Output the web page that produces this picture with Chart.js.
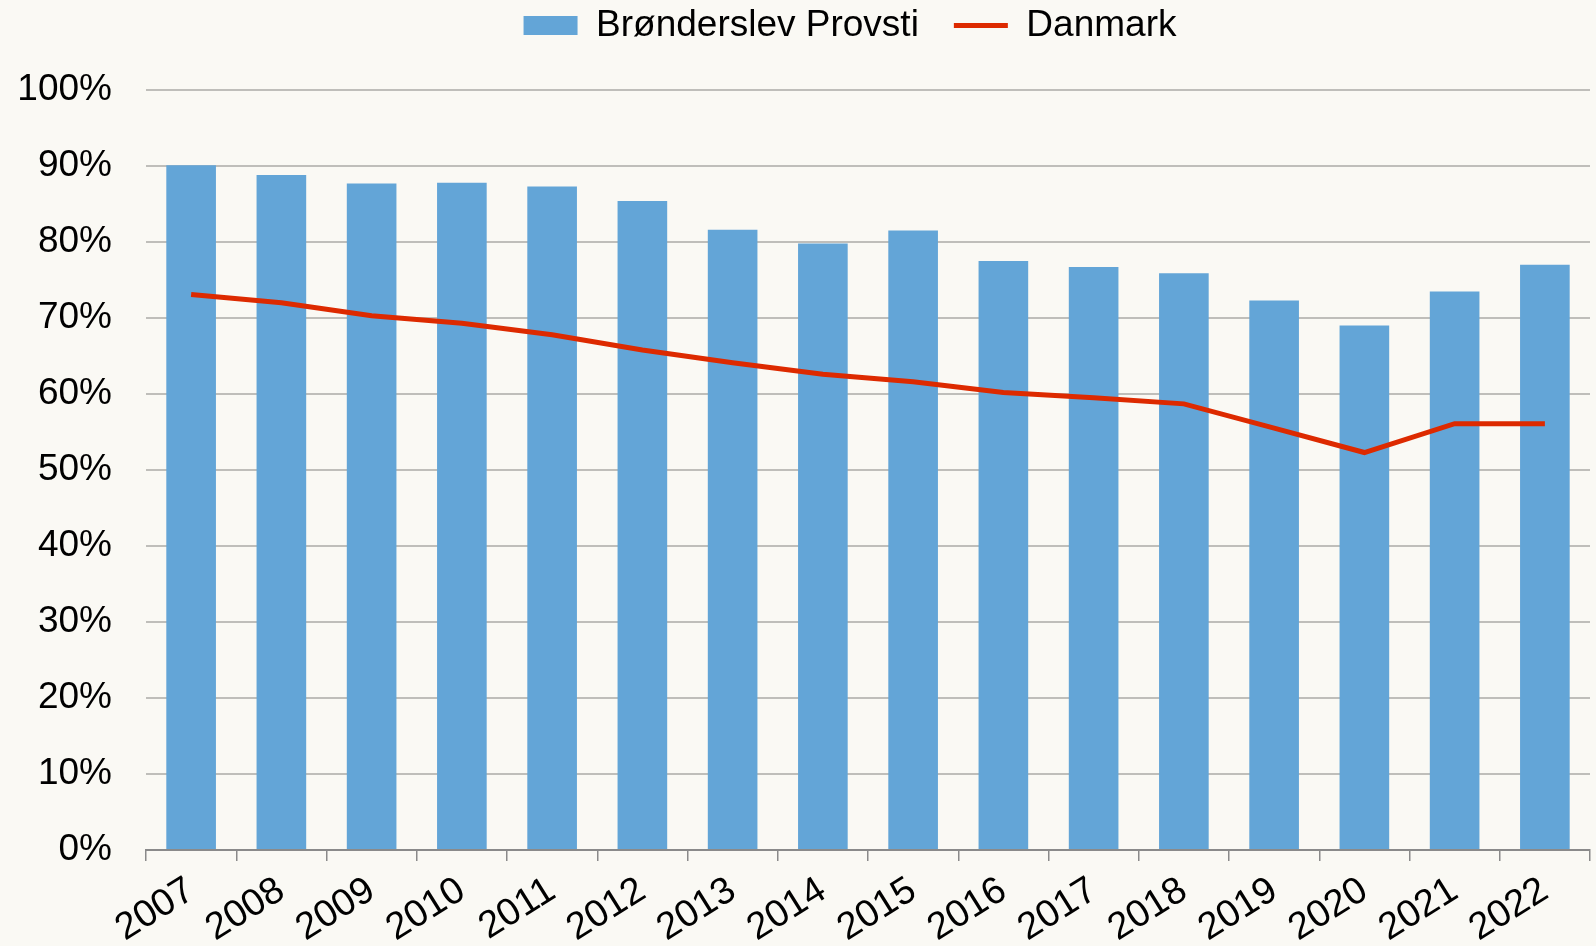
<!DOCTYPE html>
<html lang="da">
<head>
<meta charset="utf-8">
<title>Brønderslev Provsti</title>
<script src="https://cdn.jsdelivr.net/npm/chart.js@4.4.1/dist/chart.umd.min.js"></script>
<style>
  html, body { margin: 0; padding: 0; background: #FAF9F4; }
  #wrap { width: 1596px; height: 946px; position: relative; }
</style>
</head>
<body>
<div id="wrap"><canvas id="chart"></canvas></div>
<script>
// --- DATA ---
const years = ['2007', '2008', '2009', '2010', '2011', '2012', '2013', '2014',
               '2015', '2016', '2017', '2018', '2019', '2020', '2021', '2022'];
const provstiShare = [90.1, 88.8, 87.7, 87.8, 87.3, 85.4, 81.6, 79.8,
                      81.5, 77.5, 76.7, 75.9, 72.3, 69.0, 73.5, 77.0];
const danmarkShare = [73.1, 72.0, 70.3, 69.3, 67.8, 65.8, 64.1, 62.6,
                      61.6, 60.2, 59.5, 58.7, 55.5, 52.3, 56.1, 56.1];
const yTicks = [0, 10, 20, 30, 40, 50, 60, 70, 80, 90, 100];

const BAR_BLUE = '#63A5D7';
const LINE_RED = '#DD2A00';
const FONT = 'Liberation Sans, Arial, sans-serif';
const FONT_SIZE = 37;

// legend sits higher and a bit right of the plot centre
const legendShift = {
  id: 'legendShift',
  afterLayout(chart) {
    const lg = chart.legend;
    lg.left += 45;
    lg.right += 45;
    lg.top -= 36;
    lg.bottom -= 36;
  }
};

const ctx = document.getElementById('chart').getContext('2d');
new Chart(ctx, {
  data: {
    labels: years,
    datasets: [
      {
        type: 'bar',
        label: 'Brønderslev Provsti',
        data: provstiShare,
        backgroundColor: BAR_BLUE,
        borderWidth: 0,
        barPercentage: 0.55,
        categoryPercentage: 1.0,
        pointStyle: 'rect',
        order: 1
      },
      {
        type: 'line',
        label: 'Danmark',
        data: danmarkShare,
        borderColor: LINE_RED,
        backgroundColor: LINE_RED,
        borderWidth: 5,
        pointRadius: 0,
        pointStyle: 'line',
        tension: 0,
        fill: false,
        order: 0
      }
    ]
  },
  options: {
    responsive: true,
    maintainAspectRatio: false,
    animation: false,
    layout: { padding: { left: 20, right: 6, top: 8, bottom: 0 } },
    plugins: {
      tooltip: { enabled: false },
      legend: {
        position: 'top',
        labels: {
          usePointStyle: true,
          pointStyleWidth: 54,
          boxHeight: 19,
          padding: 35,
          color: '#000',
          font: { family: FONT, size: FONT_SIZE },
          sort: (a, b) => a.datasetIndex - b.datasetIndex
        }
      }
    },
    scales: {
      x: {
        grid: {
          display: true,
          offset: true,
          drawOnChartArea: false,
          drawTicks: true,
          tickLength: 11,
          color: '#8A8A8A',
          lineWidth: 1.5
        },
        border: { display: true, color: '#8A8A8A', width: 2 },
        ticks: {
          color: '#000',
          font: { family: FONT, size: 38 },
          autoSkip: false,
          minRotation: 32,
          maxRotation: 32,
          padding: 7
        },
        afterFit(scale) { scale.height = 96; }
      },
      y: {
        min: 0,
        max: 100,
        afterBuildTicks(scale) { scale.ticks = yTicks.map(v => ({ value: v })); },
        grid: { color: '#BFBEBA', lineWidth: 2, drawTicks: false },
        border: { display: false },
        ticks: {
          color: '#000',
          font: { family: FONT, size: FONT_SIZE },
          padding: 34,
          callback: v => v + '%'
        },
        afterFit(scale) { scale.width = 126; }
      }
    }
  },
  plugins: [legendShift]
});
</script>
</body>
</html>
